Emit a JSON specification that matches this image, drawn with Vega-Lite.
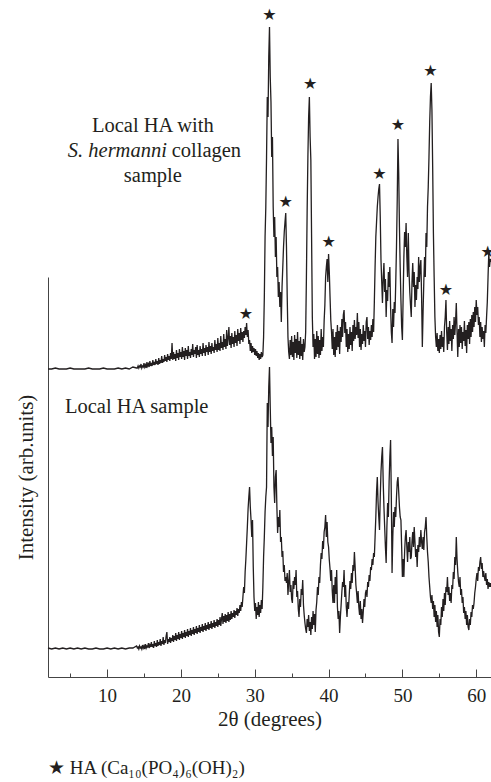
{
"$schema": "https://vega.github.io/schema/vega-lite/v6.json",
"width": 443, "height": 400,
"autosize": {"type": "none"},
"padding": {"left": 48, "top": 277, "right": 0, "bottom": 105},
"background": "white",
"config": {"view": {"stroke": null}, "font": "Liberation Serif", "axis": {"labelFont": "Liberation Serif", "titleFont": "Liberation Serif"}, "title": {"font": "Liberation Serif"}},
"title": {"text": "★ HA (Ca₁₀(PO₄)₆(OH)₂)", "orient": "bottom", "anchor": "start", "frame": "group", "font": "Liberation Serif", "fontSize": 19, "fontWeight": "normal", "color": "#231f20", "offset": 30},
"datasets": {
"xrd": [
{"d":2.0,"a":308,"b":29},{"d":2.5,"a":308,"b":28},{"d":3.0,"a":309,"b":29},{"d":3.5,"a":308,"b":28},{"d":4.0,"a":308,"b":29},{"d":4.5,"a":308,"b":28},{"d":5.0,"a":309,"b":29},{"d":5.5,"a":308,"b":28},{"d":6.0,"a":308,"b":29},{"d":6.5,"a":308,"b":28},{"d":7.0,"a":308,"b":29},{"d":7.5,"a":309,"b":28},{"d":8.0,"a":308,"b":28},{"d":8.5,"a":308,"b":29},{"d":9.0,"a":308,"b":28},{"d":9.5,"a":309,"b":28},{"d":10.0,"a":308,"b":29},{"d":10.5,"a":308,"b":28},{"d":11.0,"a":308,"b":29},{"d":11.5,"a":309,"b":28},{"d":12.0,"a":308,"b":29},{"d":12.5,"a":309,"b":28},{"d":13.0,"a":308,"b":29},{"d":13.5,"a":310,"b":29},
{"d":14.0,"a":309,"b":31},{"d":14.1,"a":309,"b":29},{"d":14.2,"a":311,"b":30},{"d":14.3,"a":309,"b":28},{"d":14.4,"a":311,"b":31},{"d":14.5,"a":310,"b":29},{"d":14.6,"a":313,"b":30},{"d":14.7,"a":309,"b":28},{"d":14.8,"a":311,"b":32},{"d":14.9,"a":310,"b":29},
{"d":15.0,"a":314,"b":31},{"d":15.1,"a":310,"b":28},{"d":15.2,"a":312,"b":33},{"d":15.3,"a":309,"b":29},{"d":15.4,"a":315,"b":31},{"d":15.5,"a":311,"b":30},{"d":15.6,"a":313,"b":34},{"d":15.7,"a":310,"b":29},{"d":15.8,"a":316,"b":32},{"d":15.9,"a":311,"b":30},
{"d":16.0,"a":314,"b":35},{"d":16.1,"a":311,"b":30},{"d":16.2,"a":317,"b":33},{"d":16.3,"a":312,"b":29},{"d":16.4,"a":315,"b":36},{"d":16.5,"a":312,"b":31},{"d":16.6,"a":318,"b":34},{"d":16.7,"a":313,"b":30},{"d":16.8,"a":316,"b":37},{"d":16.9,"a":312,"b":31},
{"d":17.0,"a":319,"b":35},{"d":17.1,"a":313,"b":32},{"d":17.2,"a":317,"b":38},{"d":17.3,"a":314,"b":31},{"d":17.4,"a":321,"b":36},{"d":17.5,"a":314,"b":33},{"d":17.6,"a":318,"b":40},{"d":17.7,"a":315,"b":32},{"d":17.8,"a":322,"b":37},{"d":17.9,"a":316,"b":34},
{"d":18.0,"a":320,"b":41},{"d":18.1,"a":315,"b":45},{"d":18.2,"a":323,"b":33},{"d":18.3,"a":317,"b":38},{"d":18.4,"a":321,"b":35},{"d":18.5,"a":316,"b":40},{"d":18.6,"a":324,"b":34},{"d":18.7,"a":318,"b":39},{"d":18.8,"a":334,"b":36},{"d":18.9,"a":317,"b":42},
{"d":19.0,"a":325,"b":35},{"d":19.1,"a":318,"b":41},{"d":19.2,"a":323,"b":37},{"d":19.3,"a":316,"b":44},{"d":19.4,"a":327,"b":36},{"d":19.5,"a":319,"b":42},{"d":19.6,"a":324,"b":38},{"d":19.7,"a":317,"b":45},{"d":19.8,"a":328,"b":37},{"d":19.9,"a":320,"b":43},
{"d":20.0,"a":325,"b":39},{"d":20.1,"a":318,"b":46},{"d":20.2,"a":330,"b":38},{"d":20.3,"a":320,"b":44},{"d":20.4,"a":326,"b":40},{"d":20.5,"a":317,"b":47},{"d":20.6,"a":329,"b":39},{"d":20.7,"a":321,"b":45},{"d":20.8,"a":327,"b":41},{"d":20.9,"a":318,"b":48},
{"d":21.0,"a":331,"b":40},{"d":21.1,"a":321,"b":46},{"d":21.2,"a":325,"b":42},{"d":21.3,"a":319,"b":49},{"d":21.4,"a":328,"b":41},{"d":21.5,"a":322,"b":47},{"d":21.6,"a":333,"b":43},{"d":21.7,"a":320,"b":50},{"d":21.8,"a":327,"b":42},{"d":21.9,"a":323,"b":48},
{"d":22.0,"a":330,"b":44},{"d":22.1,"a":319,"b":51},{"d":22.2,"a":332,"b":43},{"d":22.3,"a":322,"b":49},{"d":22.4,"a":327,"b":45},{"d":22.5,"a":320,"b":52},{"d":22.6,"a":331,"b":44},{"d":22.7,"a":323,"b":50},{"d":22.8,"a":328,"b":46},{"d":22.9,"a":321,"b":53},
{"d":23.0,"a":334,"b":45},{"d":23.1,"a":324,"b":51},{"d":23.2,"a":329,"b":47},{"d":23.3,"a":321,"b":54},{"d":23.4,"a":332,"b":46},{"d":23.5,"a":325,"b":52},{"d":23.6,"a":330,"b":48},{"d":23.7,"a":322,"b":55},{"d":23.8,"a":335,"b":47},{"d":23.9,"a":325,"b":53},
{"d":24.0,"a":331,"b":49},{"d":24.1,"a":323,"b":56},{"d":24.2,"a":334,"b":48},{"d":24.3,"a":326,"b":54},{"d":24.4,"a":330,"b":50},{"d":24.5,"a":324,"b":57},{"d":24.6,"a":337,"b":49},{"d":24.7,"a":327,"b":55},{"d":24.8,"a":333,"b":51},{"d":24.9,"a":325,"b":58},
{"d":25.0,"a":339,"b":50},{"d":25.1,"a":327,"b":57},{"d":25.2,"a":334,"b":52},{"d":25.3,"a":326,"b":60},{"d":25.4,"a":341,"b":51},{"d":25.5,"a":329,"b":58},{"d":25.6,"a":335,"b":64},{"d":25.7,"a":327,"b":53},{"d":25.8,"a":343,"b":61},{"d":25.9,"a":330,"b":55},
{"d":26.0,"a":338,"b":63},{"d":26.1,"a":328,"b":54},{"d":26.2,"a":347,"b":62},{"d":26.3,"a":331,"b":56},{"d":26.4,"a":339,"b":65},{"d":26.5,"a":350,"b":55},{"d":26.6,"a":332,"b":63},{"d":26.7,"a":341,"b":57},{"d":26.8,"a":329,"b":66},{"d":26.9,"a":344,"b":58},
{"d":27.0,"a":333,"b":64},{"d":27.1,"a":340,"b":60},{"d":27.2,"a":330,"b":67},{"d":27.3,"a":346,"b":59},{"d":27.4,"a":334,"b":66},{"d":27.5,"a":342,"b":62},{"d":27.6,"a":331,"b":69},{"d":27.7,"a":348,"b":61},{"d":27.8,"a":336,"b":68},{"d":27.9,"a":344,"b":64},
{"d":28.0,"a":333,"b":72},{"d":28.1,"a":349,"b":66},{"d":28.2,"a":337,"b":75},{"d":28.3,"a":345,"b":70},{"d":28.4,"a":335,"b":80},{"d":28.5,"a":346,"b":90},{"d":28.6,"a":339,"b":84},{"d":28.7,"a":350,"b":105},{"d":28.8,"a":342,"b":118},{"d":28.9,"a":354,"b":134},
{"d":29.0,"a":340,"b":150},{"d":29.1,"a":347,"b":168},{"d":29.2,"a":333,"b":180},{"d":29.3,"a":337,"b":190},{"d":29.4,"a":326,"b":170},{"d":29.5,"a":334,"b":157},{"d":29.6,"a":324,"b":140},{"d":29.7,"a":331,"b":157},{"d":29.8,"a":325,"b":110},{"d":29.9,"a":329,"b":80},
{"d":30.0,"a":322,"b":66},{"d":30.1,"a":328,"b":74},{"d":30.2,"a":321,"b":58},{"d":30.3,"a":326,"b":70},{"d":30.4,"a":319,"b":62},{"d":30.5,"a":324,"b":75},{"d":30.6,"a":317,"b":60},{"d":30.7,"a":323,"b":72},{"d":30.8,"a":318,"b":64},{"d":30.9,"a":325,"b":77},
{"d":31.0,"a":320,"b":68},{"d":31.1,"a":322,"b":90},{"d":31.2,"a":340,"b":120},{"d":31.3,"a":380,"b":140},{"d":31.4,"a":440,"b":165},{"d":31.5,"a":470,"b":180},{"d":31.6,"a":520,"b":190},{"d":31.7,"a":580,"b":274},{"d":31.8,"a":560,"b":250},{"d":31.9,"a":620,"b":290},
{"d":32.0,"a":650,"b":310},{"d":32.1,"a":600,"b":270},{"d":32.2,"a":575,"b":234},{"d":32.3,"a":520,"b":250},{"d":32.4,"a":540,"b":221},{"d":32.5,"a":470,"b":240},{"d":32.6,"a":440,"b":190},{"d":32.7,"a":460,"b":174},{"d":32.8,"a":420,"b":200},{"d":32.9,"a":440,"b":207},
{"d":33.0,"a":400,"b":170},{"d":33.1,"a":410,"b":144},{"d":33.2,"a":380,"b":160},{"d":33.3,"a":395,"b":150},{"d":33.4,"a":370,"b":167},{"d":33.5,"a":385,"b":135},{"d":33.6,"a":355,"b":140},{"d":33.7,"a":390,"b":120},{"d":33.8,"a":410,"b":126},{"d":33.9,"a":430,"b":105},
{"d":34.0,"a":445,"b":112},{"d":34.1,"a":455,"b":96},{"d":34.2,"a":464,"b":100},{"d":34.3,"a":430,"b":94},{"d":34.4,"a":380,"b":104},{"d":34.5,"a":340,"b":82},{"d":34.6,"a":325,"b":95},{"d":34.7,"a":318,"b":107},{"d":34.8,"a":337,"b":85},{"d":34.9,"a":322,"b":92},
{"d":35.0,"a":341,"b":78},{"d":35.1,"a":320,"b":74},{"d":35.2,"a":335,"b":96},{"d":35.3,"a":317,"b":88},{"d":35.4,"a":342,"b":100},{"d":35.5,"a":324,"b":92},{"d":35.6,"a":338,"b":107},{"d":35.7,"a":319,"b":80},{"d":35.8,"a":345,"b":86},{"d":35.9,"a":322,"b":68},
{"d":36.0,"a":336,"b":60},{"d":36.1,"a":318,"b":78},{"d":36.2,"a":340,"b":70},{"d":36.3,"a":321,"b":88},{"d":36.4,"a":333,"b":82},{"d":36.5,"a":317,"b":97},{"d":36.6,"a":338,"b":72},{"d":36.7,"a":325,"b":62},{"d":36.8,"a":330,"b":54},{"d":36.9,"a":345,"b":48},
{"d":37.0,"a":400,"b":44},{"d":37.1,"a":467,"b":58},{"d":37.2,"a":520,"b":50},{"d":37.3,"a":560,"b":62},{"d":37.4,"a":580,"b":46},{"d":37.5,"a":540,"b":55},{"d":37.6,"a":517,"b":42},{"d":37.7,"a":440,"b":60},{"d":37.8,"a":360,"b":48},{"d":37.9,"a":330,"b":66},
{"d":38.0,"a":343,"b":52},{"d":38.1,"a":318,"b":63},{"d":38.2,"a":338,"b":45},{"d":38.3,"a":320,"b":67},{"d":38.4,"a":346,"b":75},{"d":38.5,"a":323,"b":90},{"d":38.6,"a":341,"b":82},{"d":38.7,"a":319,"b":100},{"d":38.8,"a":337,"b":94},{"d":38.9,"a":322,"b":112},
{"d":39.0,"a":348,"b":124},{"d":39.1,"a":326,"b":118},{"d":39.2,"a":340,"b":136},{"d":39.3,"a":330,"b":128},{"d":39.4,"a":356,"b":145},{"d":39.5,"a":372,"b":150},{"d":39.6,"a":400,"b":162},{"d":39.7,"a":410,"b":140},{"d":39.8,"a":418,"b":155},{"d":39.9,"a":395,"b":135},
{"d":40.0,"a":423,"b":130},{"d":40.1,"a":405,"b":117},{"d":40.2,"a":380,"b":108},{"d":40.3,"a":357,"b":96},{"d":40.4,"a":345,"b":107},{"d":40.5,"a":328,"b":86},{"d":40.6,"a":348,"b":74},{"d":40.7,"a":322,"b":92},{"d":40.8,"a":340,"b":74},{"d":40.9,"a":320,"b":100},
{"d":41.0,"a":345,"b":83},{"d":41.1,"a":327,"b":107},{"d":41.2,"a":352,"b":70},{"d":41.3,"a":330,"b":58},{"d":41.4,"a":346,"b":66},{"d":41.5,"a":323,"b":44},{"d":41.6,"a":350,"b":60},{"d":41.7,"a":335,"b":72},{"d":41.8,"a":358,"b":85},{"d":41.9,"a":340,"b":95},
{"d":42.0,"a":362,"b":90},{"d":42.1,"a":367,"b":107},{"d":42.2,"a":344,"b":80},{"d":42.3,"a":355,"b":92},{"d":42.4,"a":330,"b":70},{"d":42.5,"a":348,"b":60},{"d":42.6,"a":325,"b":75},{"d":42.7,"a":343,"b":68},{"d":42.8,"a":328,"b":82},{"d":42.9,"a":350,"b":96},
{"d":43.0,"a":332,"b":88},{"d":43.1,"a":345,"b":104},{"d":43.2,"a":326,"b":94},{"d":43.3,"a":352,"b":112},{"d":43.4,"a":336,"b":106},{"d":43.5,"a":357,"b":125},{"d":43.6,"a":338,"b":110},{"d":43.7,"a":350,"b":92},{"d":43.8,"a":342,"b":84},{"d":43.9,"a":364,"b":74},
{"d":44.0,"a":339,"b":86},{"d":44.1,"a":355,"b":70},{"d":44.2,"a":330,"b":62},{"d":44.3,"a":348,"b":76},{"d":44.4,"a":327,"b":58},{"d":44.5,"a":343,"b":68},{"d":44.6,"a":333,"b":54},{"d":44.7,"a":352,"b":65},{"d":44.8,"a":336,"b":78},{"d":44.9,"a":346,"b":70},
{"d":45.0,"a":330,"b":84},{"d":45.1,"a":355,"b":87},{"d":45.2,"a":360,"b":80},{"d":45.3,"a":338,"b":95},{"d":45.4,"a":350,"b":90},{"d":45.5,"a":332,"b":102},{"d":45.6,"a":346,"b":96},{"d":45.7,"a":337,"b":110},{"d":45.8,"a":352,"b":107},{"d":45.9,"a":340,"b":118},
{"d":46.0,"a":358,"b":112},{"d":46.1,"a":345,"b":124},{"d":46.2,"a":375,"b":120},{"d":46.3,"a":410,"b":140},{"d":46.4,"a":440,"b":160},{"d":46.5,"a":455,"b":185},{"d":46.6,"a":470,"b":200},{"d":46.7,"a":480,"b":175},{"d":46.8,"a":488,"b":160},{"d":46.9,"a":493,"b":147},
{"d":47.0,"a":460,"b":180},{"d":47.1,"a":417,"b":205},{"d":47.2,"a":395,"b":220},{"d":47.3,"a":374,"b":230},{"d":47.4,"a":400,"b":195},{"d":47.5,"a":414,"b":170},{"d":47.6,"a":385,"b":150},{"d":47.7,"a":398,"b":130},{"d":47.8,"a":360,"b":114},{"d":47.9,"a":387,"b":150},
{"d":48.0,"a":376,"b":174},{"d":48.1,"a":405,"b":160},{"d":48.2,"a":390,"b":195},{"d":48.3,"a":410,"b":220},{"d":48.4,"a":370,"b":237},{"d":48.5,"a":345,"b":180},{"d":48.6,"a":334,"b":104},{"d":48.7,"a":368,"b":140},{"d":48.8,"a":350,"b":165},{"d":48.9,"a":375,"b":150},
{"d":49.0,"a":364,"b":170},{"d":49.1,"a":395,"b":160},{"d":49.2,"a":430,"b":180},{"d":49.3,"a":477,"b":195},{"d":49.4,"a":538,"b":200},{"d":49.5,"a":504,"b":185},{"d":49.6,"a":450,"b":170},{"d":49.7,"a":410,"b":160},{"d":49.8,"a":377,"b":157},{"d":49.9,"a":350,"b":130},
{"d":50.0,"a":337,"b":100},{"d":50.1,"a":380,"b":118},{"d":50.2,"a":420,"b":100},{"d":50.3,"a":445,"b":125},{"d":50.4,"a":430,"b":140},{"d":50.5,"a":454,"b":147},{"d":50.6,"a":420,"b":130},{"d":50.7,"a":400,"b":115},{"d":50.8,"a":444,"b":135},{"d":50.9,"a":405,"b":125},
{"d":51.0,"a":385,"b":140},{"d":51.1,"a":372,"b":118},{"d":51.2,"a":360,"b":120},{"d":51.3,"a":395,"b":135},{"d":51.4,"a":414,"b":145},{"d":51.5,"a":390,"b":130},{"d":51.6,"a":405,"b":150},{"d":51.7,"a":370,"b":135},{"d":51.8,"a":392,"b":120},{"d":51.9,"a":377,"b":128},
{"d":52.0,"a":400,"b":110},{"d":52.1,"a":388,"b":132},{"d":52.2,"a":420,"b":125},{"d":52.3,"a":395,"b":140},{"d":52.4,"a":410,"b":130},{"d":52.5,"a":417,"b":147},{"d":52.6,"a":380,"b":135},{"d":52.7,"a":330,"b":128},{"d":52.8,"a":365,"b":140},{"d":52.9,"a":395,"b":127},
{"d":53.0,"a":420,"b":145},{"d":53.1,"a":400,"b":150},{"d":53.2,"a":444,"b":160},{"d":53.3,"a":430,"b":140},{"d":53.4,"a":470,"b":125},{"d":53.5,"a":490,"b":115},{"d":53.6,"a":520,"b":100},{"d":53.7,"a":555,"b":90},{"d":53.8,"a":580,"b":80},{"d":53.9,"a":594,"b":74},
{"d":54.0,"a":567,"b":82},{"d":54.1,"a":510,"b":68},{"d":54.2,"a":444,"b":76},{"d":54.3,"a":400,"b":60},{"d":54.4,"a":360,"b":72},{"d":54.5,"a":340,"b":55},{"d":54.6,"a":330,"b":66},{"d":54.7,"a":344,"b":50},{"d":54.8,"a":326,"b":62},{"d":54.9,"a":338,"b":45},
{"d":55.0,"a":324,"b":40},{"d":55.1,"a":342,"b":58},{"d":55.2,"a":328,"b":52},{"d":55.3,"a":346,"b":70},{"d":55.4,"a":330,"b":60},{"d":55.5,"a":340,"b":78},{"d":55.6,"a":325,"b":66},{"d":55.7,"a":350,"b":84},{"d":55.8,"a":360,"b":72},{"d":55.9,"a":377,"b":90},
{"d":56.0,"a":345,"b":85},{"d":56.1,"a":327,"b":100},{"d":56.2,"a":350,"b":82},{"d":56.3,"a":333,"b":90},{"d":56.4,"a":356,"b":76},{"d":56.5,"a":336,"b":84},{"d":56.6,"a":348,"b":74},{"d":56.7,"a":326,"b":92},{"d":56.8,"a":352,"b":88},{"d":56.9,"a":338,"b":105},
{"d":57.0,"a":360,"b":98},{"d":57.1,"a":342,"b":120},{"d":57.2,"a":355,"b":112},{"d":57.3,"a":374,"b":140},{"d":57.4,"a":345,"b":118},{"d":57.5,"a":320,"b":105},{"d":57.6,"a":348,"b":95},{"d":57.7,"a":330,"b":90},{"d":57.8,"a":352,"b":100},{"d":57.9,"a":334,"b":82},
{"d":58.0,"a":350,"b":88},{"d":58.1,"a":328,"b":74},{"d":58.2,"a":345,"b":80},{"d":58.3,"a":336,"b":64},{"d":58.4,"a":356,"b":70},{"d":58.5,"a":331,"b":58},{"d":58.6,"a":347,"b":66},{"d":58.7,"a":324,"b":52},{"d":58.8,"a":352,"b":62},{"d":58.9,"a":338,"b":50},
{"d":59.0,"a":355,"b":47},{"d":59.1,"a":333,"b":58},{"d":59.2,"a":358,"b":52},{"d":59.3,"a":340,"b":65},{"d":59.4,"a":362,"b":60},{"d":59.5,"a":345,"b":72},{"d":59.6,"a":365,"b":68},{"d":59.7,"a":350,"b":74},{"d":59.8,"a":370,"b":84},{"d":59.9,"a":355,"b":90},
{"d":60.0,"a":377,"b":98},{"d":60.1,"a":362,"b":104},{"d":60.2,"a":370,"b":96},{"d":60.3,"a":352,"b":110},{"d":60.4,"a":360,"b":106},{"d":60.5,"a":340,"b":115},{"d":60.6,"a":355,"b":120},{"d":60.7,"a":335,"b":108},{"d":60.8,"a":350,"b":114},{"d":60.9,"a":338,"b":100},
{"d":61.0,"a":346,"b":106},{"d":61.1,"a":330,"b":100},{"d":61.2,"a":352,"b":96},{"d":61.3,"a":344,"b":104},{"d":61.4,"a":360,"b":92},{"d":61.5,"a":375,"b":98},{"d":61.6,"a":400,"b":88},{"d":61.7,"a":424,"b":95},{"d":61.8,"a":410,"b":90},{"d":61.9,"a":418,"b":94},
{"d":62.0,"a":415,"b":90}
],
"stars": [
{"d":32.0,"v":662},{"d":34.2,"v":475},{"d":37.5,"v":593},{"d":40.0,"v":435},{"d":46.9,"v":503},{"d":49.4,"v":552},{"d":53.8,"v":606},{"d":55.9,"v":387},{"d":28.8,"v":363},{"d":61.55,"v":425}
],
"centered": [
{"d":16.2,"v":551,"t":"Local HA with"},{"d":16.2,"v":501,"t":"sample"}
],
"italic": [
{"d":18.1,"v":526,"t":"S. hermanni"}
],
"lefttext": [
{"d":18.75,"v":526,"t":"collagen"},{"d":4.3,"v":270,"t":"Local HA sample"}
]
},
"encoding": {
"x": {"field": "d", "type": "quantitative", "scale": {"domain": [2, 62], "nice": false, "zero": false},
"axis": {"title": "2θ (degrees)", "values": [5,10,15,20,25,30,35,40,45,50,55,60], "labelExpr": "datum.value % 10 === 0 ? datum.label : ''",
"tickSize": {"condition": {"test": "datum.value % 10 === 0", "value": -8}, "value": -4},
"tickColor": "#444", "domainColor": "#444", "grid": false, "labelPadding": 17, "labelFont": "Liberation Serif", "labelFontSize": 19, "labelColor": "#231f20",
"titleFont": "Liberation Serif", "titleFontSize": 21, "titleFontWeight": "normal", "titleColor": "#231f20", "titlePadding": 3}},
"y": {"field": "v", "type": "quantitative", "scale": {"domain": [0, 400], "nice": false, "zero": false},
"axis": {"title": "Intensity (arb.units)", "ticks": false, "labels": false, "grid": false, "domainColor": "#444",
"titleFont": "Liberation Serif", "titleFontSize": 21, "titleFontWeight": "normal", "titleColor": "#231f20", "titlePadding": 12}}
},
"layer": [
{
"data": {"name": "xrd"},
"transform": [{"fold": ["a", "b"], "as": ["s", "v"]}],
"mark": {"type": "line", "color": "#231f20", "strokeWidth": 1.3},
"encoding": {"detail": {"field": "s", "type": "nominal"}}
},
{
"data": {"name": "stars"},
"mark": {"type": "text", "text": "★", "font": "DejaVu Sans", "fontSize": 16, "baseline": "middle", "align": "center", "color": "#231f20"}
},
{
"data": {"name": "centered"},
"mark": {"type": "text", "font": "Liberation Serif", "fontSize": 20.5, "baseline": "middle", "align": "center", "color": "#231f20"},
"encoding": {"text": {"field": "t"}}
},
{
"data": {"name": "italic"},
"mark": {"type": "text", "font": "Liberation Serif", "fontStyle": "italic", "fontSize": 20.5, "baseline": "middle", "align": "right", "color": "#231f20"},
"encoding": {"text": {"field": "t"}}
},
{
"data": {"name": "lefttext"},
"mark": {"type": "text", "font": "Liberation Serif", "fontSize": 20.5, "baseline": "middle", "align": "left", "color": "#231f20"},
"encoding": {"text": {"field": "t"}}
}
]
}
